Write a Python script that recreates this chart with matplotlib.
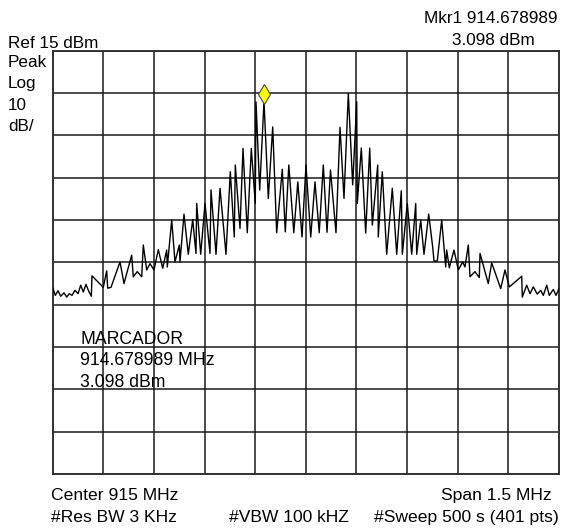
import matplotlib
matplotlib.use("Agg")
import matplotlib.pyplot as plt
import matplotlib.transforms as mtransforms
import numpy as np

plt.rcParams["font.family"] = ["Liberation Sans", "DejaVu Sans"]

# Analyzer settings
center_mhz = 915.0
span_mhz = 1.5
ref_dbm = 15.0
db_per_div = 10.0

# Trace vertices: offset from centre (kHz) and level (dBm)
offset_khz = [
    -750.0, -742.3, -734.3, -726.3, -716.5, -708.5, -700.8, -692.8, -683.9, -675.1,
    -667.1, -659.4, -651.4, -643.4, -635.6, -633.6, -600.1, -590.0, -587.1, -577.3,
    -550.6, -538.8, -516.0, -511.2, -499.4, -486.3, -481.6, -471.5, -461.7, -449.9,
    -437.1, -424.1, -412.3, -410.5, -397.4, -387.7, -374.9, -372.9, -361.0, -348.3,
    -335.2, -325.5, -323.4, -311.5, -298.8, -284.0, -281.0, -266.2, -254.3, -236.6,
    -223.8, -212.0, -209.0, -195.1, -186.2, -173.5, -161.6, -149.8, -147.7, -136.7,
    -124.0, -111.2, -98.2, -86.4, -69.8, -60.9, -50.5, -35.7, -23.8, -11.4,
    0.4, 14.4, 27.1, 39.6, 51.7, 62.7, 73.0, 89.3, 101.2, 113.0,
    125.8, 138.8, 150.7, 152.4, 164.3, 177.3, 189.2, 196.9, 212.9, 214.6,
    226.5, 239.5, 256.1, 269.2, 282.8, 285.8, 300.6, 313.6, 325.5, 328.4,
    340.3, 350.0, 364.0, 375.8, 379.7, 389.4, 402.5, 414.3, 417.3, 425.0,
    438.9, 451.7, 464.7, 471.5, 481.3, 486.3, 501.1, 513.9, 516.0, 540.5,
    550.6, 577.3, 590.0, 602.8, 639.5, 641.3, 654.3, 664.1, 673.9, 685.7,
    695.8, 703.5, 713.6, 721.3, 733.1, 741.1, 750.0,
]
level_dbm = [
    -40.9, -42.8, -41.7, -43.0, -42.2, -43.2, -42.4, -42.8, -41.6, -42.4,
    -40.4, -42.0, -40.2, -41.8, -43.0, -38.2, -40.9, -37.0, -41.1, -40.9,
    -34.9, -40.0, -33.3, -38.4, -37.2, -38.4, -30.9, -36.8, -35.3, -36.8,
    -32.0, -36.4, -32.1, -36.1, -25.0, -34.9, -30.9, -34.9, -23.6, -33.1,
    -24.9, -32.9, -21.1, -33.1, -21.1, -32.9, -17.9, -33.1, -17.5, -33.1,
    -13.6, -29.0, -12.0, -27.0, -8.1, -28.0, -8.1, -21.1, 2.9, -17.9,
    3.098, -19.9, -3.0, -28.0, -13.0, -27.8, -12.0, -28.0, -16.0, -29.0,
    -12.0, -29.0, -16.0, -28.0, -12.0, -27.9, -13.2, -28.0, -3.1, -19.9,
    4.9, -16.7, 2.9, -21.1, -8.0, -28.1, -8.0, -26.2, -12.0, -29.0,
    -13.6, -33.1, -17.5, -33.1, -18.1, -33.1, -21.1, -33.1, -21.1, -33.1,
    -25.0, -33.1, -23.6, -31.4, -34.7, -34.7, -25.0, -36.1, -32.1, -36.3,
    -32.1, -36.8, -34.9, -36.1, -30.9, -38.4, -37.2, -38.6, -32.9, -40.0,
    -35.1, -41.2, -36.8, -40.8, -38.3, -43.2, -40.4, -42.4, -40.8, -42.5,
    -41.6, -42.8, -40.4, -42.8, -41.4, -42.8, -41.2,
]

# Marker 1 (drawn on the trace vertex it sits on)
marker_index = 60

freq = center_mhz + np.array(offset_khz) / 1000.0
level = np.array(level_dbm)

W, H = 562, 529
fig = plt.figure(figsize=(W / 100, H / 100), dpi=100)
ax = fig.add_axes([52.7 / W, 1 - 474 / H, 506.3 / W, 423.3 / H])

f0 = center_mhz - span_mhz / 2
f1 = center_mhz + span_mhz / 2
y0 = ref_dbm - 10 * db_per_div
ax.set_xlim(f0, f1)
ax.set_ylim(y0, ref_dbm)
ax.set_xticks(np.linspace(f0, f1, 11))
ax.set_yticks(np.linspace(y0, ref_dbm, 11))
ax.grid(True, color="#1a1a1a", lw=1.1)
ax.tick_params(length=0, labelbottom=False, labelleft=False)
for s in ax.spines.values():
    s.set_color("#333333")
    s.set_linewidth(1.4)

ax.plot(freq, level, color="black", lw=1.0, zorder=3)

# marker diamond sits just above the peak
mk_tr = mtransforms.offset_copy(ax.transData, fig=fig, y=7, units="dots")
ax.plot(freq[marker_index], level[marker_index], marker="d", ms=10.5,
        mfc="#ffff00", mec="#444444", mew=0.8, transform=mk_tr, zorder=4,
        clip_on=False)


def label(x, y, s, ha="left", size=12.3):
    fig.text(x / W, 1 - y / H, s, ha=ha, va="baseline", fontsize=size)


label(557, 23, "Mkr1 914.678989", ha="right")
label(535, 45, "3.098 dBm", ha="right")
label(8, 48, "Ref 15 dBm")
label(8, 67, "Peak")
label(8, 88, "Log")
label(8, 110, "10")
label(8, 131, "dB/")

label(80, 344, "MARCADOR", size=12.7)
label(80, 365, "914.678989 MHz", size=12.7)
label(80, 387, "3.098 dBm", size=12.7)

label(51, 500, "Center 915 MHz", size=12.6)
label(552, 500, "Span 1.5 MHz", ha="right", size=12.6)
label(51, 522, "#Res BW 3 KHz", size=12.6)
label(229, 522, "#VBW 100 kHZ", size=12.6)
label(559, 522, "#Sweep 500 s (401 pts)", ha="right", size=12.6)

fig.savefig("out.png", dpi=100)
